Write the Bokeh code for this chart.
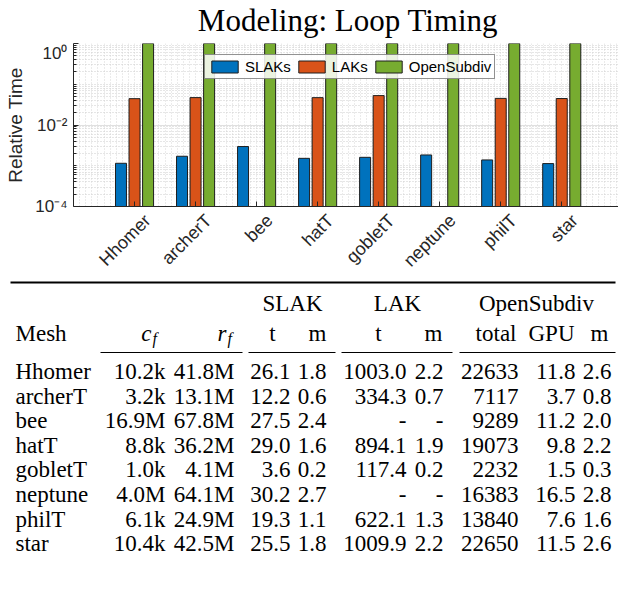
import math
import numpy as np
from bokeh.plotting import figure
from bokeh.models import (Range1d, FixedTicker, Legend, LegendItem, LinearAxis,
                          ColumnDataSource)
from bokeh.transform import dodge
from bokeh.core.properties import value
from bokeh.embed import file_html
from bokeh.resources import INLINE

# ---------------- data ----------------
meshes = ["Hhomer", "archerT", "bee", "hatT", "gobletT", "neptune", "philT", "star"]
# relative time (normalised to OpenSubdiv)
rel_slaks = [1.15e-3, 1.71e-3, 2.96e-3, 1.52e-3, 1.61e-3, 1.84e-3, 1.39e-3, 1.13e-3]
rel_laks = [0.0443, 0.0470, np.nan, 0.0469, 0.0526, np.nan, 0.0450, 0.0446]
rel_opensubdiv = [1.0, 1.0, 1.0, 1.0, 1.0, 1.0, 1.0, 1.0]

series_names = ["SLAKs", "LAKs", "OpenSubdiv"]
series_colors = ["#0072BD", "#D95319", "#77AC30"]

ytick_values = [1e-4, 1e-2, 1.0]
ytick_labels = ["10\u207b\u2074", "10\u207b\u00b2", "10\u2070"]

title_text = "Modeling: Loop Timing"
ylabel_text = "Relative Time"

# table
col_cf = ["10.2k", "3.2k", "16.9M", "8.8k", "1.0k", "4.0M", "6.1k", "10.4k"]
col_rf = ["41.8M", "13.1M", "67.8M", "36.2M", "4.1M", "64.1M", "24.9M", "42.5M"]
col_slak_t = ["26.1", "12.2", "27.5", "29.0", "3.6", "30.2", "19.3", "25.5"]
col_slak_m = ["1.8", "0.6", "2.4", "1.6", "0.2", "2.7", "1.1", "1.8"]
col_lak_t = ["1003.0", "334.3", "-", "894.1", "117.4", "-", "622.1", "1009.9"]
col_lak_m = ["2.2", "0.7", "-", "1.9", "0.2", "-", "1.3", "2.2"]
col_os_total = ["22633", "7117", "9289", "19073", "2232", "16383", "13840", "22650"]
col_os_gpu = ["11.8", "3.7", "11.2", "9.8", "1.5", "16.5", "7.6", "11.5"]
col_os_m = ["2.6", "0.8", "2.0", "2.2", "0.3", "2.8", "1.6", "2.6"]

group_headers = ["SLAK", "LAK", "OpenSubdiv"]

SANS = "Liberation Sans"
SERIF = "Liberation Serif"
AX = "#262626"
W = 618

# ---------------- title (own small figure) ----------------
ttl = figure(width=W, height=43, x_range=Range1d(0, 618), y_range=Range1d(43, 0),
             x_axis_type=None, y_axis_type=None, output_backend="svg",
             toolbar_location=None, min_border=0)
ttl.outline_line_color = None
ttl.text(x=[347.5], y=[20], text=[title_text], text_align="center",
         text_baseline="alphabetic", text_font=value(SERIF),
         text_font_size=value("31px"), text_color="black")

# ---------------- bar chart ----------------
idx = list(range(1, len(meshes) + 1))
src = ColumnDataSource(dict(
    x=idx, mesh=meshes,
    slak=np.array(rel_slaks, dtype=float),
    lak=np.array(rel_laks, dtype=float),
    osd=np.array(rel_opensubdiv, dtype=float),
))

XMAX = 8.93
p = figure(width=W, height=237, x_range=Range1d(0, XMAX), y_range=Range1d(1e-4, 1.0),
           y_axis_type="log", output_backend="svg", toolbar_location=None,
           min_border_left=73, min_border_right=0, min_border_top=0, min_border_bottom=71)
p.outline_line_color = None

renderers = []
for field, off, col in zip(["slak", "lak", "osd"], [-0.222, 0.0, 0.222], series_colors):
    r = p.vbar(x=dodge("x", off, range=p.x_range), top=field, bottom=1e-4, width=0.18,
               source=src, fill_color=col, line_color="#1e1e1e", line_width=1)
    renderers.append(r)

# main x axis: tick marks only
p.xaxis.ticker = FixedTicker(ticks=idx)
p.xaxis.major_label_overrides = {i: "" for i in idx}
p.xaxis.axis_line_color = AX
p.xaxis.major_tick_line_color = AX
p.xaxis.major_tick_in = 5
p.xaxis.major_tick_out = 0
p.xaxis.minor_tick_in = 0
p.xaxis.minor_tick_out = 0
p.xaxis.major_label_standoff = 0

# label axis (range shifted so the rotated names end right of the ticks, as in the reference)
SHIFT = 0.213
p.extra_x_ranges = {"lab": Range1d(-SHIFT, XMAX - SHIFT)}
lab_axis = LinearAxis(x_range_name="lab", ticker=FixedTicker(ticks=idx),
                      major_label_overrides={i: m for i, m in zip(idx, meshes)},
                      major_label_orientation=math.pi / 4,
                      major_label_text_font=SANS, major_label_text_font_size="18px",
                      major_label_text_color=AX, major_label_standoff=5,
                      axis_line_color=None, major_tick_line_color=None,
                      minor_tick_line_color=None)
p.add_layout(lab_axis, "below")

minor = []
for e in range(-4, 0):
    for k in range(2, 10):
        minor.append(k * 10.0 ** e)
minor += [1e-3, 1e-1]
p.yaxis.ticker = FixedTicker(ticks=ytick_values, minor_ticks=minor)
p.yaxis.major_label_overrides = {v: l for v, l in zip(ytick_values, ytick_labels)}
p.yaxis.axis_line_color = AX
p.yaxis.major_tick_line_color = AX
p.yaxis.minor_tick_line_color = AX
p.yaxis.major_tick_in = 5
p.yaxis.major_tick_out = 0
p.yaxis.minor_tick_in = 3
p.yaxis.minor_tick_out = 0
p.yaxis.major_label_text_font = SANS
p.yaxis.major_label_text_font_size = "17px"
p.yaxis.major_label_text_color = AX
p.yaxis.major_label_standoff = 6
p.yaxis.axis_label = ylabel_text
p.yaxis.axis_label_text_font = SANS
p.yaxis.axis_label_text_font_size = "19px"
p.yaxis.axis_label_text_font_style = "normal"
p.yaxis.axis_label_text_color = AX
p.yaxis.axis_label_standoff = 6

# grids
p.ygrid.grid_line_color = "#e0e0e0"
p.ygrid.minor_grid_line_color = "#cdcdcd"
p.ygrid.minor_grid_line_dash = "1 2"
p.xgrid.ticker = FixedTicker(ticks=[i / 10 for i in range(0, 90)])
p.xgrid.grid_line_color = "#d6d6d6"
p.xgrid.grid_line_dash = "1 2"

# legend
legend = Legend(items=[LegendItem(label=n, renderers=[r]) for n, r in zip(series_names, renderers)],
                location=(131, 127), orientation="horizontal", margin=0, padding=3,
                spacing=4, glyph_width=33, glyph_height=15, label_standoff=4,
                label_text_font=SANS, label_text_font_size="15px", label_text_color="black",
                border_line_color=AX, border_line_width=1,
                background_fill_color="white", background_fill_alpha=0.85)
p.add_layout(legend)

# ---------------- table ----------------
t = figure(width=W, height=316, x_range=Range1d(0, 618), y_range=Range1d(596, 280),
           x_axis_type=None, y_axis_type=None, output_backend="svg",
           toolbar_location=None, min_border=0)
t.outline_line_color = None

row_y = [371 + 24.6 * i for i in range(len(meshes))]
FS = "23px"


def txt(xs, ys, texts, align, size=FS, style="normal"):
    t.text(x=xs, y=ys, text=texts, text_align=align, text_baseline="alphabetic",
           text_font=value(SERIF), text_font_size=value(size), text_font_style=style,
           text_color="black")


# rules
t.segment(x0=[10], y0=[282], x1=[615], y1=[282], line_color="black", line_width=2)
t.segment(x0=[100, 248, 341, 459], y0=[352] * 4, x1=[242, 335, 452, 615], y1=[352] * 4,
          line_color="black", line_width=1)

# group headers
txt([292, 397, 536], [303] * 3, group_headers, "center")
# sub headers
txt([15], [333], ["Mesh"], "left")
txt([151], [333], ["c"], "right", style="italic")
txt([152], [338], ["f"], "left", size="16px", style="italic")
txt([226], [333], ["r"], "right", style="italic")
txt([227], [338], ["f"], "left", size="16px", style="italic")
txt([272, 378], [333, 333], ["t", "t"], "center")
txt([326, 442, 516, 574, 608], [333] * 5, ["m", "m", "total", "GPU", "m"], "right")

# body
n = len(meshes)
txt([15] * n, row_y, meshes, "left")
for xr, col in zip([165, 234, 290, 326, 406, 443, 518, 575, 611],
                   [col_cf, col_rf, col_slak_t, col_slak_m, col_lak_t, col_lak_m,
                    col_os_total, col_os_gpu, col_os_m]):
    txt([xr] * n, row_y, col, "right")

open("out.html", "w").write(file_html([ttl, p, t], INLINE))
